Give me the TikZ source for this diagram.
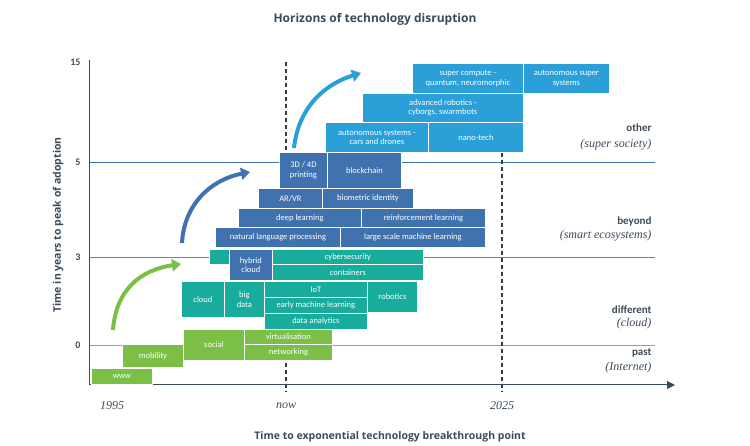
\documentclass[tikz,border=0pt]{standalone}
\usepackage{fontspec}
\setmainfont{Carlito}
\newfontfamily\serifit{Liberation Serif}
\newfontfamily\titlef{Open Sans}
\usetikzlibrary{arrows.meta}
\definecolor{cgreen}{HTML}{7BBF47}
\definecolor{cteal}{HTML}{17AC9C}
\definecolor{cdblue}{HTML}{3F72AE}
\definecolor{clblue}{HTML}{2A9FD8}
\definecolor{ctxt}{HTML}{3C4B5C}
\newcommand{\bx}[7]{\node[box,fill=#6,minimum width={(#4-#2)*1pt},minimum height={(#5-#3)*1pt},anchor=north west] (#1) at (#2,#3) {#7};}
\begin{document}
\begin{tikzpicture}[x=1pt,y=-1pt,
 box/.style={draw=white,line width=0.8pt,inner sep=0pt,text=white,align=center,font=\fontsize{8.5}{9.5}\selectfont},
 hline/.style={line width=0.8pt},
 dashv/.style={line width=1.2pt,color=ctxt!80!black,dash pattern=on 4pt off 3pt},
 rlab/.style={anchor=east,text=ctxt,font=\fontsize{11}{12}\selectfont\bfseries},
 rsub/.style={anchor=east,text=ctxt,font=\fontsize{12}{13}\selectfont\serifit\itshape},
 tick/.style={text=ctxt,font=\fontsize{10}{11}\selectfont\bfseries,anchor=east},
 xl/.style={text=ctxt,font=\fontsize{12}{13}\selectfont\serifit\itshape},
 bigarrow/.style={line width=4pt,-{Triangle[width=12pt,length=9pt]}}]
\useasboundingbox (0,0) rectangle (750,446);
% horizontal lines
\draw[hline,cgreen] (89,345) -- (655,345);
\draw[hline,cteal] (89,257) -- (655,257);
\draw[hline,cdblue] (89,162) -- (655,162);
% dashed
\coordinate (n1) at (286,62); \coordinate (n2) at (286,392);
\coordinate (t1) at (502,153); \coordinate (t2) at (502,392);
\draw[dashv] (n1) -- (n2);
\draw[dashv] (t1) -- (t2);
% axes
\coordinate (o) at (89,385); \coordinate (ytop) at (89,60); \coordinate (xend) at (675,385);
\draw[line width=1pt,ctxt] (ytop) -- (o);
\draw[line width=1pt,ctxt,-{Triangle[width=8pt,length=8pt]}] (o) -- (xend);
% ticks
\node[tick] (l15) at (84,62) {15};
\node[tick] (l5) at (84,162) {5};
\node[tick] (l3) at (84,257) {3};
\node[tick] (l0) at (84,345) {0};
\node[xl] (x1) at (112,406) {1995};
\node[xl] (x2) at (286,406) {now};
\node[xl] (x3) at (502,406) {2025};
% titles
\node[text=ctxt,font=\titlef\fontsize{12}{13}\selectfont\bfseries] (title) at (375,19) {Horizons of technology disruption};
\node[text=ctxt,font=\titlef\fontsize{10.5}{12}\selectfont\bfseries] (xlab) at (390,437) {Time to exponential technology breakthrough point};
\node[text=ctxt,font=\titlef\fontsize{10.5}{12}\selectfont\bfseries,rotate=90] (ylab) at (58,225) {Time in years to peak of adoption};
% right labels
\node[rlab] (r1) at (655,128) {other};
\node[rsub] (r1s) at (655,145) {(super society)};
\node[rlab] (r2) at (655,222) {beyond};
\node[rsub] (r2s) at (655,236) {(smart ecosystems)};
\node[rlab] (r3) at (655,310) {different};
\node[rsub] (r3s) at (655,324) {(cloud)};
\node[rlab] (r4) at (655,353) {past};
\node[rsub] (r4s) at (655,368) {(Internet)};
% green
\bx{www}{91}{368}{152}{384}{cgreen}{www}
\bx{mob}{122}{344}{183}{367}{cgreen}{mobility}
\bx{soc}{183}{329}{244}{360}{cgreen}{social}
\bx{virt}{244}{329}{332}{344}{cgreen}{virtualisation}
\bx{net}{244}{344}{332}{360}{cgreen}{networking}
% teal
\bx{cloud}{181}{281}{224}{317}{cteal}{cloud}
\bx{bd}{224}{281}{264}{317}{cteal}{big\\data}
\bx{iot}{264}{281}{367}{297}{cteal}{IoT}
\bx{eml}{264}{297}{367}{313}{cteal}{early machine learning}
\bx{da}{264}{313}{367}{329}{cteal}{data analytics}
\bx{rob}{367}{281}{417}{312}{cteal}{robotics}
\bx{sm}{209}{249}{229}{264}{cteal}{}
\bx{hyb}{229}{249}{272}{280}{cdblue}{hybrid\\cloud}
\bx{cyb}{272}{249}{423}{264}{cteal}{cybersecurity}
\bx{cont}{272}{264}{423}{280}{cteal}{containers}
% dark blue
\bx{nlp}{215}{227}{340}{247}{cdblue}{natural language processing}
\bx{lsml}{340}{227}{485}{247}{cdblue}{large scale machine learning}
\bx{dl}{238}{208}{361}{227}{cdblue}{deep learning}
\bx{rl}{361}{208}{485}{227}{cdblue}{reinforcement learning}
\bx{ar}{258}{188}{322}{208}{cdblue}{AR/VR}
\bx{bio}{322}{188}{413}{208}{cdblue}{biometric identity}
\bx{3d}{279}{152}{327}{188}{cdblue}{3D / 4D\\printing}
\bx{bc}{327}{152}{401}{188}{cdblue}{blockchain}
% light blue
\bx{as}{325}{122}{428}{152}{clblue}{autonomous systems -\\cars and drones}
\bx{nano}{428}{122}{523}{152}{clblue}{nano-tech}
\bx{adv}{362}{93}{523}{122}{clblue}{advanced robotics -\\cyborgs, swarmbots}
\bx{sc}{412}{63}{523}{93}{clblue}{super compute -\\quantum, neuromorphic}
\bx{ass}{523}{63}{609}{93}{clblue}{autonomous super\\systems}
% curved arrows
\coordinate (g1) at (113,330); \coordinate (g2) at (181,264);
\draw[bigarrow,cgreen] (g1) .. controls (116,290) and (140,270) .. (g2);
\coordinate (b1) at (182,243); \coordinate (b2) at (250,172);
\draw[bigarrow,cdblue] (b1) .. controls (184,205) and (210,180) .. (b2);
\coordinate (c1) at (294,148); \coordinate (c2) at (361,73);
\draw[bigarrow,clblue] (c1) .. controls (298,110) and (322,85) .. (c2);
\end{tikzpicture}
\end{document}
